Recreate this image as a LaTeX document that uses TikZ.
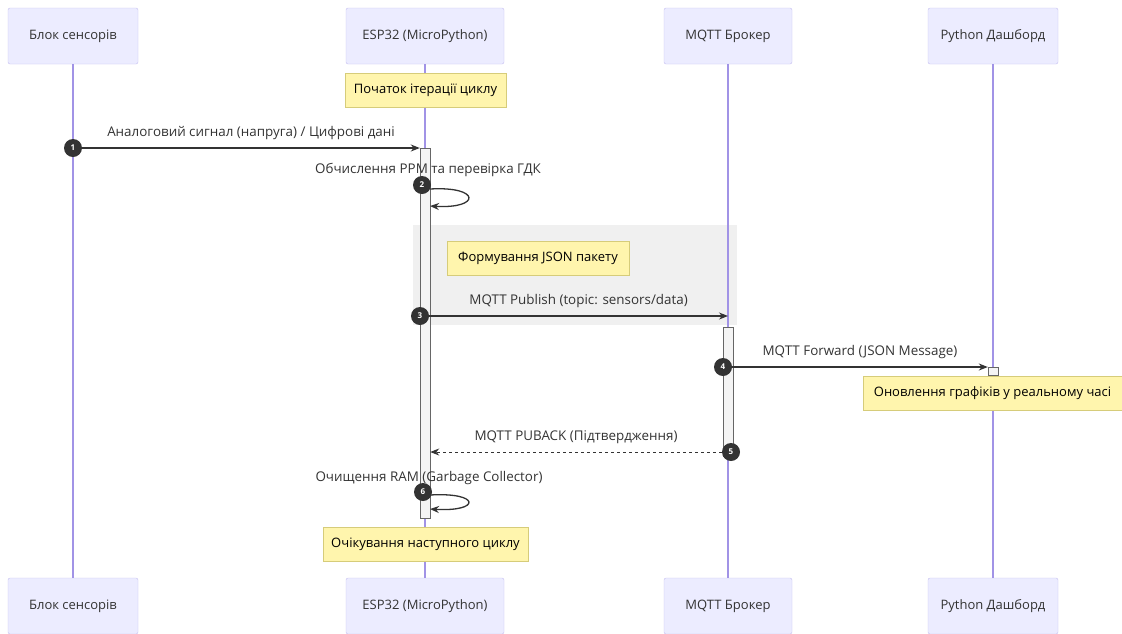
\documentclass[tikz,border=0pt]{standalone}
\usepackage{fontspec}
\setmainfont{Open Sans}
\usetikzlibrary{arrows.meta}
\definecolor{actor_fill}{HTML}{ECECFF}
\definecolor{actor_line}{HTML}{C4BDF0}
\definecolor{life_col}{HTML}{A193E6}
\definecolor{note_fill}{HTML}{FFF5AD}
\definecolor{note_line}{HTML}{D6CC7A}
\definecolor{loop_fill}{HTML}{F0F0F0}
\definecolor{bar_fill}{HTML}{F4F4F4}
\definecolor{txt}{HTML}{333333}
\tikzstyle{actor_box} = [rectangle, minimum height=56pt, text centered, draw=actor_line, fill=actor_fill, rounded corners=2pt, text=txt, font=\fontsize{13}{15}\selectfont]
\tikzstyle{note_box} = [rectangle, minimum height=34pt, text centered, draw=note_line, fill=note_fill, text=black, font=\fontsize{13}{15}\selectfont]
\tikzstyle{life_line} = [draw=life_col, line width=1.2pt]
\tikzstyle{act_bar} = [rectangle, minimum width=10pt, inner sep=0pt, draw=black!60, fill=bar_fill]
\tikzstyle{msg_arrow} = [draw=txt, line width=1.3pt, -{Stealth[length=9pt,width=7pt]}]
\tikzstyle{msg_label} = [text=txt, font=\fontsize{13.4}{15}\selectfont]
\tikzstyle{seq_num} = [circle, fill=txt, text=white, inner sep=0pt, minimum size=18pt, font=\fontsize{8}{8}\selectfont\bfseries]

\begin{document}
\begin{tikzpicture}[x=1pt, y=-1pt]
\useasboundingbox (0,0) rectangle (1122,633);
% loop region
\fill[loop_fill] (413,225) rectangle (737,325);
% actors and lifelines
\foreach \n/\x/\w/\t in {sens/73/130/Блок сенсорів, esp/425/158/ESP32 (MicroPython), mqtt/728/128/MQTT Брокер, dash/993/130/Python Дашборд}
{
    \node (\n_top) [actor_box, minimum width=\w pt] at (\x,36) {\t};
    \node (\n_bot) [actor_box, minimum width=\w pt] at (\x,606) {\t};
    \draw[life_line] (\n_top) -- (\n_bot);
}
% activations
\node (esp_act) [act_bar, minimum height=370pt] at (425,333) {};
\node (mqtt_act) [act_bar, minimum height=129pt] at (728,391.5) {};
\node (dash_act) [act_bar, minimum height=8pt] at (993,371) {};
% notes
\node (start_note) [note_box, minimum width=161pt] at (425.5,90) {Початок ітерації циклу};
\node (json_note) [note_box, minimum width=182pt] at (538,258.5) {Формування JSON пакету};
\node (graph_note) [note_box, minimum width=259pt] at (992.5,393.5) {Оновлення графіків у реальному часі};
\node (wait_note) [note_box, minimum width=205pt] at (425.5,544.5) {Очікування наступного циклу};
% sequence numbers
\node (n1) [seq_num] at (73,148) {1};
\node (n2) [seq_num] at (422,185) {2};
\node (n3) [seq_num] at (420,316) {3};
\node (n4) [seq_num] at (723,367) {4};
\node (n5) [seq_num] at (731,452) {5};
\node (n6) [seq_num] at (423,492) {6};
% messages
\draw[msg_arrow] (n1) -- node[msg_label, above=4pt] {Аналоговий сигнал (напруга) / Цифрові дані} (n1 -| esp_act.west);
\coordinate (s2_a) at (430,189);
\coordinate (s2_b) at (430,206);
\draw[msg_arrow] (s2_a) .. controls (481,186) and (481,209) .. (s2_b);
\node (s2_lbl) [msg_label] at (428,170) {Обчислення PPM та перевірка ГДК};
\draw[msg_arrow] (n3) -- node[msg_label, above=4pt] {MQTT Publish (topic: sensors/data)} (n3 -| mqtt_top);
\draw[msg_arrow] (n4) -- node[msg_label, above=4pt] {MQTT Forward (JSON Message)} (n4 -| dash_act.west);
\draw[msg_arrow, line width=1pt, dash pattern=on 3pt off 3pt] (n5) -- node[msg_label, above=4pt] {MQTT PUBACK (Підтвердження)} (n5 -| esp_act.east);
\coordinate (s6_a) at (430,495);
\coordinate (s6_b) at (430,509);
\draw[msg_arrow] (s6_a) .. controls (481,492) and (481,512) .. (s6_b);
\node (s6_lbl) [msg_label] at (429,478) {Очищення RAM (Garbage Collector)};
\end{tikzpicture}
\end{document}
